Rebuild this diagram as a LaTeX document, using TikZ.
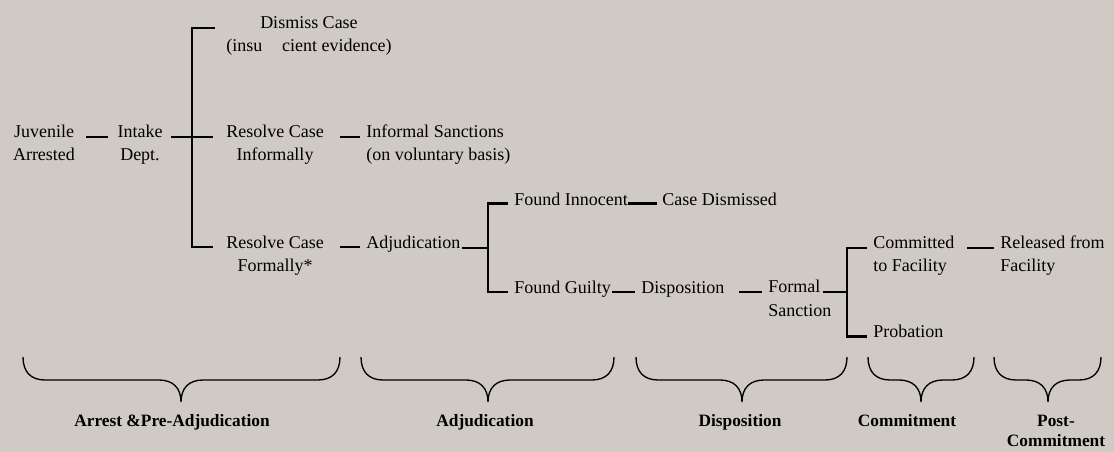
\documentclass[tikz,border=0pt]{standalone}
\usepackage{fontspec}
\setmainfont{Liberation Serif}
\usetikzlibrary{calc}
\definecolor{paper}{RGB}{208,202,196}
% two lines, baseline on the first one
\newcommand{\twolines}[3][c]{\begin{tabular}[t]{@{}#1@{}}#2\\#3\end{tabular}}

\begin{document}
\begin{tikzpicture}[
  x=0.75pt, y=-0.75pt,
  every node/.style={inner sep=0pt, font=\fontsize{13.5}{17.25}\selectfont},
  ctr/.style={anchor=base},
  lft/.style={anchor=base west},
  link/.style={line width=2.2pt},
  phasebrace/.style={line width=1pt},
  phasename/.style={anchor=base,
    font=\fontsize{13}{16.5}\selectfont\bfseries},
  ]
  \fill[paper] (0,0) rectangle (1114,452);
  \useasboundingbox (0,0) rectangle (1114,452);

  % arrest and intake
  \node[ctr] (juv) at (44,138) {\twolines{Juvenile}{Arrested}};
  \node[ctr] (intake) at (140,138) {\twolines{Intake}{Dept.}};
  \node[ctr] (dismiss) at (309,29) {\twolines{Dismiss Case}{(insu\hspace{1.1em}cient evidence)}};
  \node[ctr] (informal) at (275,138) {\twolines{Resolve Case}{Informally}};
  \node[ctr] (formal) at (275,249) {\twolines{Resolve Case}{Formally*}};
  \node[lft] (sanctions) at (366,138) {\twolines[l]{Informal Sanctions}{(on voluntary basis)}};
  \node[lft] (adj) at (366,249) {Adjudication};

  % adjudication
  \node[lft] (innocent) at (514,206) {Found Innocent};
  \node[lft] (dismissed) at (662,206) {Case Dismissed};
  \node[lft] (guilty) at (514,294) {Found Guilty};
  \node[lft] (disp) at (641,294) {Disposition};
  \node[lft] (sanction) at (768,293) {\twolines[l]{Formal}{Sanction}};

  % commitment
  \node[lft] (committed) at (873,249) {\twolines[l]{Committed}{to Facility}};
  \node[lft] (released) at (1000,249) {\twolines[l]{Released from}{Facility}};
  \node[lft] (probation) at (873,338) {Probation};

  \coordinate (fork1) at (192,137.5);
  \coordinate (fork2) at (488,248);
  \coordinate (fork3) at (847,292);

  \draw[link] ($(juv.base east)+(11,-1)$) -- ($(intake.base west)+(-9,-1)$);
  \draw[link] ($(intake.base east)+(8,-1)$) -- ($(informal.base west)+(-13,-1)$);
  \draw[link] ($(dismiss.base west)+(-11,-1)$) -| (fork1) |- ($(formal.base west)+(-13,-2)$);
  \draw[link] ($(informal.base east)+(16,-1)$) -- ($(sanctions.base west)+(-6,-1)$);
  \draw[link] ($(formal.base east)+(16,-2)$) -- ($(adj.base west)+(-6,-2)$);
  \draw[link] ($(adj.base east)+(1,-1)$) -- (fork2);
  \draw[link] ($(innocent.base west)+(-6,-2.5)$) -| (fork2) |- ($(guilty.base west)+(-6,-2)$);
  \draw[link] ($(innocent.base east)+(0,-2.5)$) -- ($(dismissed.base west)+(-5,-2.5)$);
  \draw[link] ($(guilty.base east)+(1,-2)$) -- ($(disp.base west)+(-6,-2)$);
  \draw[link] ($(disp.base east)+(14,-2)$) -- ($(sanction.base west)+(-6,-1)$);
  \draw[link] ($(sanction.base west)+(55,-1)$) -- (fork3);
  \draw[link] ($(committed.base west)+(-6,-1)$) -| (fork3) |- ($(probation.base west)+(-6,-1.5)$);
  \draw[link] ($(committed.base east)+(12,-1)$) -- ($(released.base west)+(-6,-1)$);

  % phases
  \foreach \l/\r/\t in {23/340/181, 361/614/488, 636/847/742, 868/974/921, 994/1101/1048}
    \draw[phasebrace] (\l,357) .. controls (\l,372) and (\l+8,380) .. (\l+22,380)
      -- (\t-22,380) .. controls (\t-8,380) and (\t,388) .. (\t,402)
      .. controls (\t,388) and (\t+8,380) .. (\t+22,380)
      -- (\r-22,380) .. controls (\r-8,380) and (\r,372) .. (\r,357);
  \node[phasename] (arrest) at (172,426) {Arrest \&Pre-Adjudication};
  \node[phasename] (adjphase) at (485,426) {Adjudication};
  \node[phasename] (dispphase) at (740,426) {Disposition};
  \node[phasename] (commphase) at (907,426) {Commitment};
  \node[phasename] (postphase) at (1056,426) {\renewcommand{\arraystretch}{0.95}\twolines{Post-}{Commitment}};
\end{tikzpicture}
\end{document}
